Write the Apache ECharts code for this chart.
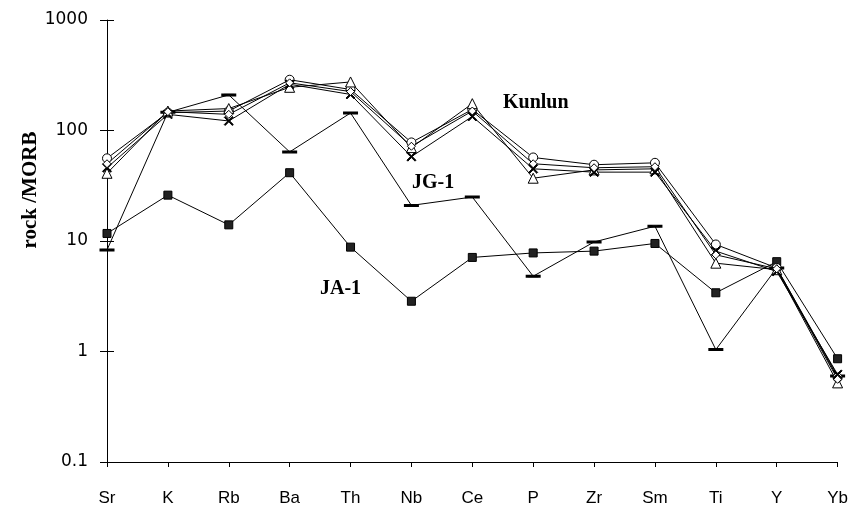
<!DOCTYPE html>
<html><head><meta charset="utf-8">
<script src="https://cdn.jsdelivr.net/npm/echarts@6/dist/echarts.min.js"></script>
<style>html,body{margin:0;padding:0;background:#fff}#c{width:851px;height:508px}</style>
</head><body><div id="c"></div>
<script>
const categories = ['Sr','K','Rb','Ba','Th','Nb','Ce','P','Zr','Sm','Ti','Y','Yb'];
const yTicks = [0.1, 1, 10, 100, 1000];
const ja1 = [11.7, 26, 14, 41.5, 8.8, 2.85, 7.1, 7.8, 8.1, 9.5, 3.4, 6.5, 0.86];
const jg1 = [8.3, 146, 210, 64, 144, 21, 25, 4.8, 9.8, 13.6, 1.04, 5.7, 0.6];
const kunlunCircle = [56, 145, 150, 288, 235, 78, 155, 57, 49, 51, 9.3, 5.7, 0.58];
const kunlunTriangle = [41, 150, 158, 246, 275, 70, 175, 37, 44, 45, 6.3, 5.5, 0.52];
const kunlunCross = [46, 140, 122, 262, 212, 58, 134, 45, 42, 42, 8.1, 5.3, 0.62];
const kunlunDiamond = [50, 148, 140, 270, 225, 72, 150, 50, 46, 47, 7.5, 5.6, 0.56];
const labels = [
  {text:'Kunlun', x:503, y:103},
  {text:'JG-1', x:412, y:183},
  {text:'JA-1', x:320, y:289}
];

const chart = echarts.init(document.getElementById('c'));
const crossPath = 'path://M1,0 L5,4 L9,0 L10,1 L6,5 L10,9 L9,10 L5,6 L1,10 L0,9 L4,5 L0,1 Z';
const lineStyle = {color:'#000', width:1};
function ser(name, data, symbol, size, fill){
  return {name, type:'line', data, symbol, symbolSize:size, showSymbol:true,
    lineStyle, itemStyle:{color:fill, borderColor:'#000', borderWidth:1}, z: 3, animation:false};
}
chart.setOption({
  animation:false,
  backgroundColor:'#fff',
  grid:{left:107, right:10, top:20, bottom:46},
  xAxis:{type:'category', data:categories, boundaryGap:false,
    axisLine:{lineStyle:{color:'#000', width:1}},
    axisTick:{show:true, length:5, inside:false, lineStyle:{color:'#000'}},
    axisLabel:{color:'#000', fontFamily:'Liberation Sans, Arial', fontSize:17, margin:28},
    splitLine:{show:false}},
  yAxis:[{type:'log', logBase:10, min:yTicks[0], max:yTicks[yTicks.length-1],
    axisLine:{show:true, lineStyle:{color:'#000', width:1}},
    axisTick:{show:true, length:7, lineStyle:{color:'#000'}},
    minorTick:{show:false},
    axisLabel:{color:'#000', fontFamily:'DejaVu Sans', fontSize:17, margin:19,
      formatter: v => String(v)},
    splitLine:{show:false}},
   {type:'log', logBase:10, min:yTicks[0], max:yTicks[yTicks.length-1], position:'left',
    axisLine:{show:false}, axisTick:{show:true, inside:true, length:7, lineStyle:{color:'#000'}},
    axisLabel:{show:false}, splitLine:{show:false}}],
  graphic: [
    {type:'text', x:31, y:190, rotation:Math.PI/2, style:{text:'rock /MORB', font:'bold 21px "Liberation Serif", serif', fill:'#000', textAlign:'center', textVerticalAlign:'middle'}}
  ].concat(labels.map(l=>({type:'text', x:l.x, y:l.y, style:{text:l.text, font:'bold 20px "Liberation Serif", serif', fill:'#000', textVerticalAlign:'middle'}}))),
  series:[
    ser('JA-1', ja1, 'rect', 8, '#222'),
    ser('JG-1', jg1, 'rect', [10,2], '#000'),
    ser('Kunlun-1', kunlunCircle, 'circle', 9, '#fff'),
    ser('Kunlun-2', kunlunTriangle, 'triangle', 10, '#fff'),
    ser('Kunlun-3', kunlunCross, crossPath, 9, '#000'),
    ser('Kunlun-4', kunlunDiamond, 'diamond', 8, '#fff')
  ]
});
</script></body></html>
